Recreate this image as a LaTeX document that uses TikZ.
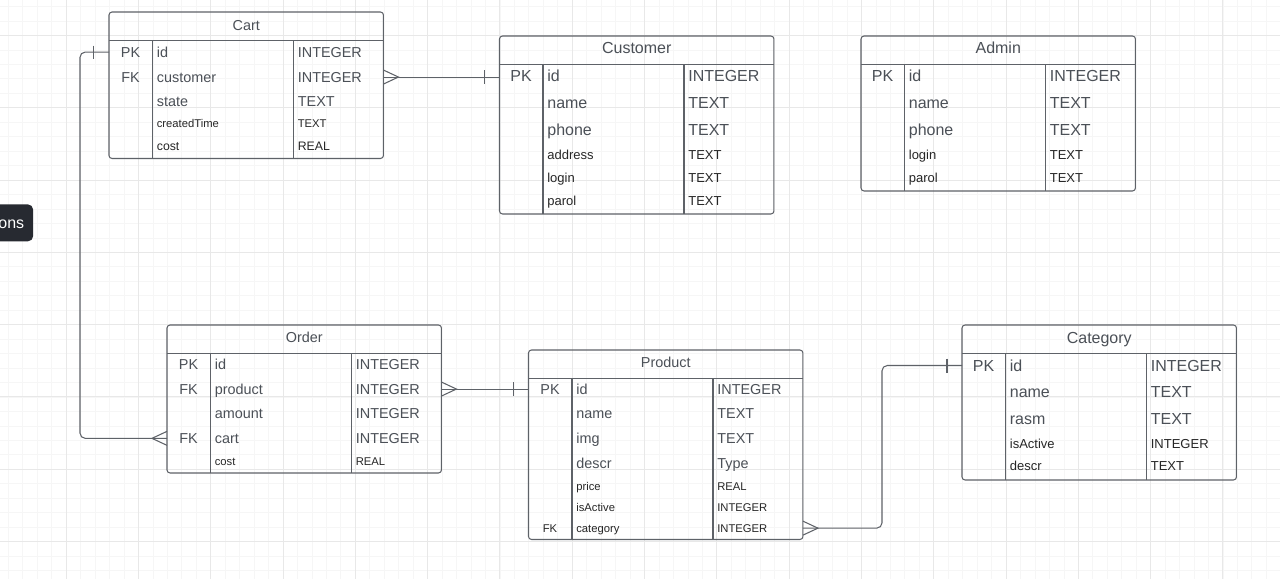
\documentclass[tikz,border=0pt]{standalone}
\usepackage{fontspec}
\setmainfont{Liberation Sans}
\usepackage{tikz}

\definecolor{lineGray}{HTML}{5E6268}
\definecolor{txtGray}{HTML}{4B5057}
\definecolor{txtDark}{HTML}{262626}
\definecolor{gridMinor}{HTML}{F6F6F6}
\definecolor{gridMajor}{HTML}{E8E8E8}
\definecolor{btnDark}{HTML}{272A31}

\tikzset{
    tbl/.style={draw=lineGray, line width=0.6pt, rounded corners=1.7pt, anchor=north west, inner sep=0pt, outer sep=0pt},
    rule/.style={draw=lineGray, line width=0.6pt},
    lnk/.style={draw=lineGray, line width=0.6pt},
    fldM/.style={inner sep=0pt, text=txtGray, font=\fontsize{8.2}{10}\selectfont},
    fldL/.style={inner sep=0pt, text=txtGray, font=\fontsize{9.1}{11}\selectfont},
    fldS/.style={inner sep=0pt, text=txtDark, font=\fontsize{6.4}{8}\selectfont},
    fldSL/.style={inner sep=0pt, text=txtDark, font=\fontsize{7.4}{9}\selectfont},
}

\begin{document}
\begin{tikzpicture}[x=0.02cm, y=-0.02cm]
    \clip (0,0) rectangle (1280,579);
    \fill[white] (0,0) rectangle (1280,579);

    % grid
    \foreach \gx in {8.26,22.72,...,1280} \draw[gridMinor, line width=0.4pt] (\gx,0) -- (\gx,579);
    \foreach \gy in {6.5,20.96,...,579} \draw[gridMinor, line width=0.4pt] (0,\gy) -- (1280,\gy);
    \foreach \gx in {66.1,138.4,...,1280} \draw[gridMajor, line width=0.5pt] (\gx,0) -- (\gx,579);
    \foreach \gy in {35.4,107.7,...,579} \draw[gridMajor, line width=0.5pt] (0,\gy) -- (1280,\gy);

    \node[fill=btnDark, rounded corners=3pt, anchor=north east, minimum width=1cm, minimum height=0.74cm, inner sep=0pt] (moreBtn) at (33.5,204) {};
    \node[anchor=base east, inner sep=0pt, text=white, font=\fontsize{9.1}{11}\selectfont] (moreTxt) at (24.5,228.3) {ons};

    \begin{scope}[shift={(109,12)}]
        \node[tbl, minimum width=5.49cm, minimum height=2.93cm] (cart) at (0,0) {};
        \draw[rule] (0,28.5) -- (274.5,28.5);
        \draw[rule] (43.5,28.5) -- (43.5,146.5);
        \draw[rule] (184.5,28.5) -- (184.5,146.5);
        \node[fldM, anchor=base] (cartTitle) at (137.25,18) {Cart};

        \node[fldM, anchor=base] (cartPK) at (21.5,45) {PK};
        \node[fldM, anchor=base west] (cartId) at (47.5,45) {id};
        \node[fldM, anchor=base west] (cartIdT) at (188.5,45) {INTEGER};
        \node[fldM, anchor=base] (cartFK) at (21.5,70) {FK};
        \node[fldM, anchor=base west] (cartCust) at (47.5,70) {customer};
        \node[fldM, anchor=base west] (cartCustT) at (188.5,70) {INTEGER};
        \node[fldM, anchor=base west] (cartState) at (47.5,94) {state};
        \node[fldM, anchor=base west] (cartStateT) at (188.5,94) {TEXT};
        \node[fldS, anchor=base west] (cartTime) at (47.5,115) {createdTime};
        \node[fldS, anchor=base west] (cartTimeT) at (188.5,115) {TEXT};
        \node[fldS, font=\fontsize{7}{9}\selectfont, anchor=base west] (cartCost) at (47.5,138) {cost};
        \node[fldS, font=\fontsize{7}{9}\selectfont, anchor=base west] (cartCostT) at (188.5,138) {REAL};
    \end{scope}

    \begin{scope}[shift={(499.5,36)}]
        \node[tbl, minimum width=5.49cm, minimum height=3.56cm] (customer) at (0,0) {};
        \draw[rule] (0,28.5) -- (274.5,28.5);
        \draw[rule] (43.5,28.5) -- (43.5,178);
        \draw[rule] (184.5,28.5) -- (184.5,178);
        \node[fldL, anchor=base] (customerTitle) at (137.25,17.3) {Customer};

        \node[fldL, anchor=base] (customerPK) at (21.5,45.7) {PK};
        \node[fldL, anchor=base west] (customerId) at (47.5,45.7) {id};
        \node[fldL, anchor=base west] (customerIdT) at (188.5,45.7) {INTEGER};
        \node[fldL, anchor=base west] (customerName) at (47.5,72) {name};
        \node[fldL, anchor=base west] (customerNameT) at (188.5,72) {TEXT};
        \node[fldL, anchor=base west] (customerPhone) at (47.5,99) {phone};
        \node[fldL, anchor=base west] (customerPhoneT) at (188.5,99) {TEXT};
        \node[fldSL, anchor=base west] (customerAddr) at (47.5,123.3) {address};
        \node[fldSL, anchor=base west] (customerAddrT) at (188.5,123.3) {TEXT};
        \node[fldSL, anchor=base west] (customerLogin) at (47.5,146) {login};
        \node[fldSL, anchor=base west] (customerLoginT) at (188.5,146) {TEXT};
        \node[fldSL, anchor=base west] (customerParol) at (47.5,169.3) {parol};
        \node[fldSL, anchor=base west] (customerParolT) at (188.5,169.3) {TEXT};
    \end{scope}

    \begin{scope}[shift={(861,36)}]
        \node[tbl, minimum width=5.49cm, minimum height=3.1cm] (admin) at (0,0) {};
        \draw[rule] (0,28.5) -- (274.5,28.5);
        \draw[rule] (43.5,28.5) -- (43.5,155);
        \draw[rule] (184.5,28.5) -- (184.5,155);
        \node[fldL, anchor=base] (adminTitle) at (137.25,17.3) {Admin};

        \node[fldL, anchor=base] (adminPK) at (21.5,45.7) {PK};
        \node[fldL, anchor=base west] (adminId) at (47.5,45.7) {id};
        \node[fldL, anchor=base west] (adminIdT) at (188.5,45.7) {INTEGER};
        \node[fldL, anchor=base west] (adminName) at (47.5,72) {name};
        \node[fldL, anchor=base west] (adminNameT) at (188.5,72) {TEXT};
        \node[fldL, anchor=base west] (adminPhone) at (47.5,99.3) {phone};
        \node[fldL, anchor=base west] (adminPhoneT) at (188.5,99.3) {TEXT};
        \node[fldSL, anchor=base west] (adminLogin) at (47.5,123.3) {login};
        \node[fldSL, anchor=base west] (adminLoginT) at (188.5,123.3) {TEXT};
        \node[fldSL, anchor=base west] (adminParol) at (47.5,146) {parol};
        \node[fldSL, anchor=base west] (adminParolT) at (188.5,146) {TEXT};
    \end{scope}

    \begin{scope}[shift={(167,325)}]
        \node[tbl, minimum width=5.49cm, minimum height=2.96cm] (order) at (0,0) {};
        \draw[rule] (0,28.5) -- (274.5,28.5);
        \draw[rule] (43.5,28.5) -- (43.5,148);
        \draw[rule] (184.5,28.5) -- (184.5,148);
        \node[fldM, anchor=base] (orderTitle) at (137.25,17.7) {Order};

        \node[fldM, anchor=base] (orderPK) at (21.5,44.3) {PK};
        \node[fldM, anchor=base west] (orderId) at (47.5,44.3) {id};
        \node[fldM, anchor=base west] (orderIdT) at (188.5,44.3) {INTEGER};
        \node[fldM, anchor=base] (orderFKprod) at (21.5,69) {FK};
        \node[fldM, anchor=base west] (orderProd) at (47.5,69) {product};
        \node[fldM, anchor=base west] (orderProdT) at (188.5,69) {INTEGER};
        \node[fldM, anchor=base west] (orderAmount) at (47.5,93.7) {amount};
        \node[fldM, anchor=base west] (orderAmountT) at (188.5,93.7) {INTEGER};
        \node[fldM, anchor=base] (orderFKcart) at (21.5,118.3) {FK};
        \node[fldM, anchor=base west] (orderCart) at (47.5,118.3) {cart};
        \node[fldM, anchor=base west] (orderCartT) at (188.5,118.3) {INTEGER};
        \node[fldS, anchor=base west] (orderCost) at (47.5,140.3) {cost};
        \node[fldS, anchor=base west] (orderCostT) at (188.5,140.3) {REAL};
    \end{scope}

    \begin{scope}[shift={(528.5,350)}]
        \node[tbl, minimum width=5.49cm, minimum height=3.79cm] (product) at (0,0) {};
        \draw[rule] (0,28.5) -- (274.5,28.5);
        \draw[rule] (43.5,28.5) -- (43.5,189.5);
        \draw[rule] (184.5,28.5) -- (184.5,189.5);
        \node[fldM, anchor=base] (productTitle) at (137.25,17.3) {Product};

        \node[fldM, anchor=base] (productPK) at (21.5,44.3) {PK};
        \node[fldM, anchor=base west] (productId) at (47.5,44.3) {id};
        \node[fldM, anchor=base west] (productIdT) at (188.5,44.3) {INTEGER};
        \node[fldM, anchor=base west] (productName) at (47.5,68.7) {name};
        \node[fldM, anchor=base west] (productNameT) at (188.5,68.7) {TEXT};
        \node[fldM, anchor=base west] (productImg) at (47.5,93.7) {img};
        \node[fldM, anchor=base west] (productImgT) at (188.5,93.7) {TEXT};
        \node[fldM, anchor=base west] (productDescr) at (47.5,118) {descr};
        \node[fldM, anchor=base west] (productDescrT) at (188.5,118) {Type};
        \node[fldS, anchor=base west] (productPrice) at (47.5,140) {price};
        \node[fldS, anchor=base west] (productPriceT) at (188.5,140) {REAL};
        \node[fldS, anchor=base west] (productActive) at (47.5,161) {isActive};
        \node[fldS, anchor=base west] (productActiveT) at (188.5,161) {INTEGER};
        \node[fldS, anchor=base] (productFK) at (21.5,182) {FK};
        \node[fldS, anchor=base west] (productCat) at (47.5,182) {category};
        \node[fldS, anchor=base west] (productCatT) at (188.5,182) {INTEGER};
    \end{scope}

    \begin{scope}[shift={(962,325)}]
        \node[tbl, minimum width=5.49cm, minimum height=3.1cm] (category) at (0,0) {};
        \draw[rule] (0,28.5) -- (274.5,28.5);
        \draw[rule] (43.5,28.5) -- (43.5,155);
        \draw[rule] (184.5,28.5) -- (184.5,155);
        \node[fldL, anchor=base] (categoryTitle) at (137.25,18.3) {Category};

        \node[fldL, anchor=base] (categoryPK) at (21.5,46) {PK};
        \node[fldL, anchor=base west] (categoryId) at (47.5,46) {id};
        \node[fldL, anchor=base west] (categoryIdT) at (188.5,46) {INTEGER};
        \node[fldL, anchor=base west] (categoryName) at (47.5,72.3) {name};
        \node[fldL, anchor=base west] (categoryNameT) at (188.5,72.3) {TEXT};
        \node[fldL, anchor=base west] (categoryRasm) at (47.5,99.3) {rasm};
        \node[fldL, anchor=base west] (categoryRasmT) at (188.5,99.3) {TEXT};
        \node[fldSL, anchor=base west] (categoryActive) at (47.5,123.7) {isActive};
        \node[fldSL, anchor=base west] (categoryActiveT) at (188.5,123.7) {INTEGER};
        \node[fldSL, anchor=base west] (categoryDescr) at (47.5,145.7) {descr};
        \node[fldSL, anchor=base west] (categoryDescrT) at (188.5,145.7) {TEXT};
    \end{scope}

    % Cart -> Customer
    \draw[lnk] (cart.east |- cartFK) -- (customer.west |- cartFK);
    \draw[lnk] (cart.east |- cartFK) ++(0,-7) -- ++(15,7) -- ++(-15,7);
    \draw[lnk] (customer.west |- cartFK) ++(-15,-7) -- ++(0,14);

    % Cart -> Order
    \coordinate (cartBend) at (80,0);
    \draw[lnk, rounded corners=3pt] (cart.west |- cartPK) -| (cartBend |- orderFKcart) -- (order.west |- orderFKcart);
    \draw[lnk] (cart.west |- cartPK) ++(-15.5,-6.5) -- ++(0,13);
    \draw[lnk] (order.west |- orderFKcart) ++(0,-7) -- ++(-15,7) -- ++(15,7);

    % Order -> Product
    \draw[lnk] (order.east |- orderFKprod) -- (product.west |- orderFKprod);
    \draw[lnk] (order.east |- orderFKprod) ++(0,-7) -- ++(15,7) -- ++(-15,7);
    \draw[lnk] (product.west |- orderFKprod) ++(-15,-7) -- ++(0,14);

    % Product -> Category
    \coordinate (catBend) at (882,0);
    \draw[lnk, rounded corners=3pt] (product.east |- productFK) -| (catBend |- categoryPK) -- (category.west |- categoryPK);
    \draw[lnk] (product.east |- productFK) ++(0,-7) -- ++(15,7) -- ++(-15,7);
    \draw[lnk] (category.west |- categoryPK) ++(-15,-7) -- ++(0,14);
\end{tikzpicture}
\end{document}
